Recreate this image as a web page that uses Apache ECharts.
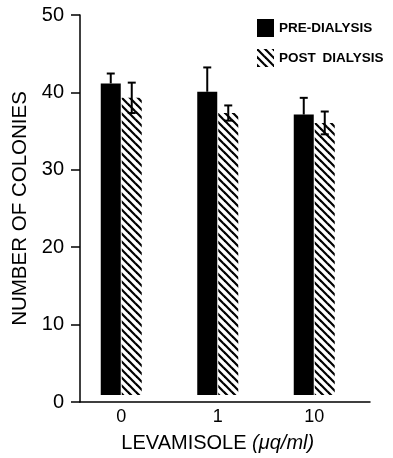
<!DOCTYPE html>
<html><head><meta charset="utf-8">
<script src="https://cdn.jsdelivr.net/npm/echarts@6/dist/echarts.min.js"></script>
<style>html,body{margin:0;padding:0;background:#fff}#c{width:393px;height:458px}</style>
</head><body><div id="c"></div>
<script>
const categories = ['0', '1', '10'];
const preValues = [41.0, 39.9, 36.9];
const preErrors = [1.3, 3.2, 2.2];
const postValues = [39.1, 37.1, 35.8];
const postErrors = [2.0, 1.0, 1.5];
const yTicks = [0, 10, 20, 30, 40, 50];

// hatch pattern
const pc = document.createElement('canvas');
pc.width = 8; pc.height = 8;
const g = pc.getContext('2d');
g.fillStyle = '#fff'; g.fillRect(0, 0, 8, 8);
g.strokeStyle = '#000'; g.lineWidth = 2.2;
for (let k = -1; k <= 1; k++) { g.beginPath(); g.moveTo(k * 8 - 1, -1); g.lineTo(k * 8 + 9, 9); g.stroke(); }
const hatch = { image: pc, repeat: 'repeat' };

const font = '"Liberation Sans", Arial, sans-serif';
const chart = echarts.init(document.getElementById('c'), null, { renderer: 'canvas' });

function errSeries(name, vals, errs, offset, both) {
  return {
    type: 'custom', name: name + '_err', xAxisIndex: 0, yAxisIndex: 0, z: 5,
    data: vals.map((v, i) => [i, v, v + errs[i], v - errs[i]]),
    renderItem: function (params, api) {
      const i = api.value(0);
      const top = api.coord([i, api.value(2)]);
      const bot = api.coord([i, both ? api.value(3) : api.value(1)]);
      const x = top[0] + offset;
      const st = { stroke: '#000', lineWidth: 2 };
      const ch = [
        { type: 'line', shape: { x1: x, y1: top[1], x2: x, y2: bot[1] }, style: st },
        { type: 'line', shape: { x1: x - 4, y1: top[1], x2: x + 4, y2: top[1] }, style: st }
      ];
      if (both) ch.push({ type: 'line', shape: { x1: x - 4, y1: bot[1], x2: x + 4, y2: bot[1] }, style: st });
      return { type: 'group', children: ch };
    }
  };
}

chart.setOption({
  animation: false,
  backgroundColor: '#fff',
  textStyle: { fontFamily: font, color: '#000' },
  legend: {
    orient: 'vertical', left: 252, top: 14, itemWidth: 17, itemHeight: 18, itemGap: 12,
    data: [{ name: 'PRE-DIALYSIS', icon: 'rect' }, { name: 'POST DIALYSIS', icon: 'rect' }],
    formatter: n => n.replace(' ', '\u2002'),
    textStyle: { fontFamily: font, fontSize: 13.5, fontWeight: 'bold', color: '#000' }
  },
  grid: [
    { left: 73, right: 30.5, top: 15, bottom: 56 },
    { left: 80, right: 23, top: 15, bottom: 56 }
  ],
  xAxis: [
    {
      gridIndex: 0, type: 'category', data: categories,
      axisLine: { show: false }, axisTick: { show: false },
      axisLabel: { fontSize: 18, color: '#000', margin: 13, fontFamily: font },
      name: '{a|LEVAMISOLE }{b|(μq/ml)}', nameLocation: 'middle', nameGap: 38,
      nameTextStyle: { rich: { a: { fontSize: 20, fontFamily: font, color: '#000' }, b: { fontSize: 20, fontStyle: 'italic', fontFamily: font, color: '#000' } } }
    },
    {
      gridIndex: 1, type: 'value', min: 0, max: 1,
      axisLine: { show: true, lineStyle: { color: '#000', width: 1.5 } },
      axisTick: { show: false }, axisLabel: { show: false }, splitLine: { show: false }
    }
  ],
  yAxis: [
    { gridIndex: 0, type: 'value', min: 0, max: 50, show: false, splitLine: { show: false } },
    {
      gridIndex: 1, type: 'value', min: 0, max: 50, interval: 10,
      axisLine: { show: true, lineStyle: { color: '#000', width: 1.5 } },
      axisTick: { show: true, inside: false, length: 9, lineStyle: { color: '#000', width: 1.5 } },
      axisLabel: { fontSize: 20, color: '#000', margin: 16, fontFamily: font, formatter: v => yTicks.includes(v) ? String(v) : '' },
      splitLine: { show: false },
      name: 'NUMBER OF COLONIES', nameLocation: 'middle', nameGap: 42,
      nameTextStyle: { fontSize: 20.5, color: '#000', fontFamily: font }
    }
  ],
  series: [
    { name: 'PRE-DIALYSIS', type: 'bar', xAxisIndex: 0, yAxisIndex: 0, barWidth: 20, barGap: '5%', data: preValues, itemStyle: { color: '#000' } },
    { name: 'POST DIALYSIS', type: 'bar', xAxisIndex: 0, yAxisIndex: 0, barWidth: 20, barGap: '5%', data: postValues, itemStyle: { color: hatch } },
    errSeries('pre', preValues, preErrors, -10.5, false),
    errSeries('post', postValues, postErrors, 10.5, true)
  ]
});
</script></body></html>
